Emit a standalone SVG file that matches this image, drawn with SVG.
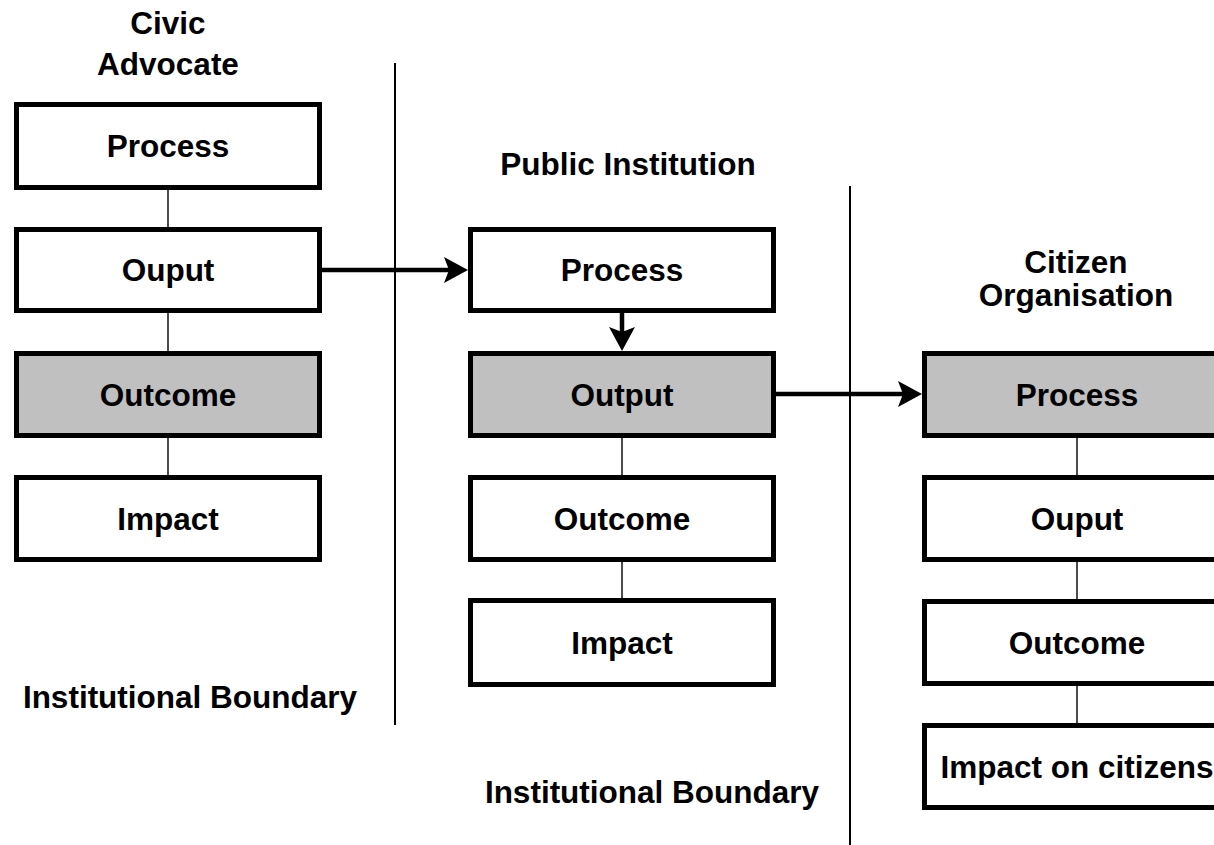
<svg xmlns="http://www.w3.org/2000/svg" width="1214" height="845" viewBox="0 0 1214 845">
  <style>
    text { font-family: "Liberation Sans", Arial, sans-serif; font-weight: bold; font-size: 31.5px; fill: #000; text-anchor: middle; }
    .box { fill: #fff; stroke: #000; stroke-width: 5; }
    .shaded { fill: #c0c0c0; }
    .link { stroke: #000; stroke-width: 1.4; fill: none; }
    .flow { stroke: #000; stroke-width: 4.5; fill: none; }
    .boundary { stroke: #000; stroke-width: 2; fill: none; }
  </style>
  <defs>
    <marker id="head" markerUnits="userSpaceOnUse" markerWidth="26" markerHeight="28" viewBox="0 0 26 28" refX="14" refY="13" orient="auto">
      <path d="M0,0 L24,13 L0,26 L5,13 z" fill="#000"/>
    </marker>
  </defs>

  <rect width="1214" height="845" fill="#fff"/>

  <!-- institutional boundaries -->
  <g id="boundaries">
    <line class="boundary" x1="395" y1="63" x2="395" y2="725"/>
    <line class="boundary" x1="850" y1="186" x2="850" y2="845"/>
  </g>

  <!-- column headings and boundary labels -->
  <g id="labels">
    <text x="168" y="34">Civic</text>
    <text x="168" y="75">Advocate</text>
    <text x="628" y="175">Public Institution</text>
    <text x="1076" y="273">Citizen</text>
    <text x="1076" y="306">Organisation</text>
    <text x="190" y="708">Institutional Boundary</text>
    <text x="652" y="803">Institutional Boundary</text>
  </g>

  <!-- connectors -->
  <g id="connectors">
    <line class="link" x1="168" y1="190" x2="168" y2="227"/>
    <line class="link" x1="168" y1="313" x2="168" y2="351"/>
    <line class="link" x1="168" y1="438" x2="168" y2="475"/>
    <line class="link" x1="622" y1="438" x2="622" y2="475"/>
    <line class="link" x1="622" y1="562" x2="622" y2="598"/>
    <line class="link" x1="1077" y1="438" x2="1077" y2="475"/>
    <line class="link" x1="1077" y1="562" x2="1077" y2="599"/>
    <line class="link" x1="1077" y1="686" x2="1077" y2="723"/>
    <line class="flow" x1="322" y1="270" x2="458" y2="270" marker-end="url(#head)"/>
    <line class="flow" x1="622" y1="313" x2="622" y2="341" marker-end="url(#head)"/>
    <line class="flow" x1="776" y1="394" x2="912" y2="394" marker-end="url(#head)"/>
  </g>

  <!-- Civic Advocate column -->
  <g id="ca-process"><rect class="box" x="16.5" y="104.5" width="303" height="83"/><text x="168" y="157">Process</text></g>
  <g id="ca-output"><rect class="box" x="16.5" y="229.5" width="303" height="81"/><text x="168" y="281">Ouput</text></g>
  <g id="ca-outcome"><rect class="box shaded" x="16.5" y="353.5" width="303" height="82"/><text x="168" y="406">Outcome</text></g>
  <g id="ca-impact"><rect class="box" x="16.5" y="477.5" width="303" height="82"/><text x="168" y="530">Impact</text></g>

  <!-- Public Institution column -->
  <g id="pi-process"><rect class="box" x="470.5" y="229.5" width="303" height="81"/><text x="622" y="281">Process</text></g>
  <g id="pi-output"><rect class="box shaded" x="470.5" y="353.5" width="303" height="82"/><text x="622" y="406">Output</text></g>
  <g id="pi-outcome"><rect class="box" x="470.5" y="477.5" width="303" height="82"/><text x="622" y="530">Outcome</text></g>
  <g id="pi-impact"><rect class="box" x="470.5" y="600.5" width="303" height="84"/><text x="622" y="654">Impact</text></g>

  <!-- Citizen Organisation column -->
  <g id="co-process"><rect class="box shaded" x="924.5" y="353.5" width="305" height="82"/><text x="1077" y="406">Process</text></g>
  <g id="co-output"><rect class="box" x="924.5" y="477.5" width="305" height="82"/><text x="1077" y="530">Ouput</text></g>
  <g id="co-outcome"><rect class="box" x="924.5" y="601.5" width="305" height="82"/><text x="1077" y="654">Outcome</text></g>
  <g id="co-impact"><rect class="box" x="924.5" y="725.5" width="305" height="82"/><text x="1077" y="778">Impact on citizens</text></g>
</svg>
